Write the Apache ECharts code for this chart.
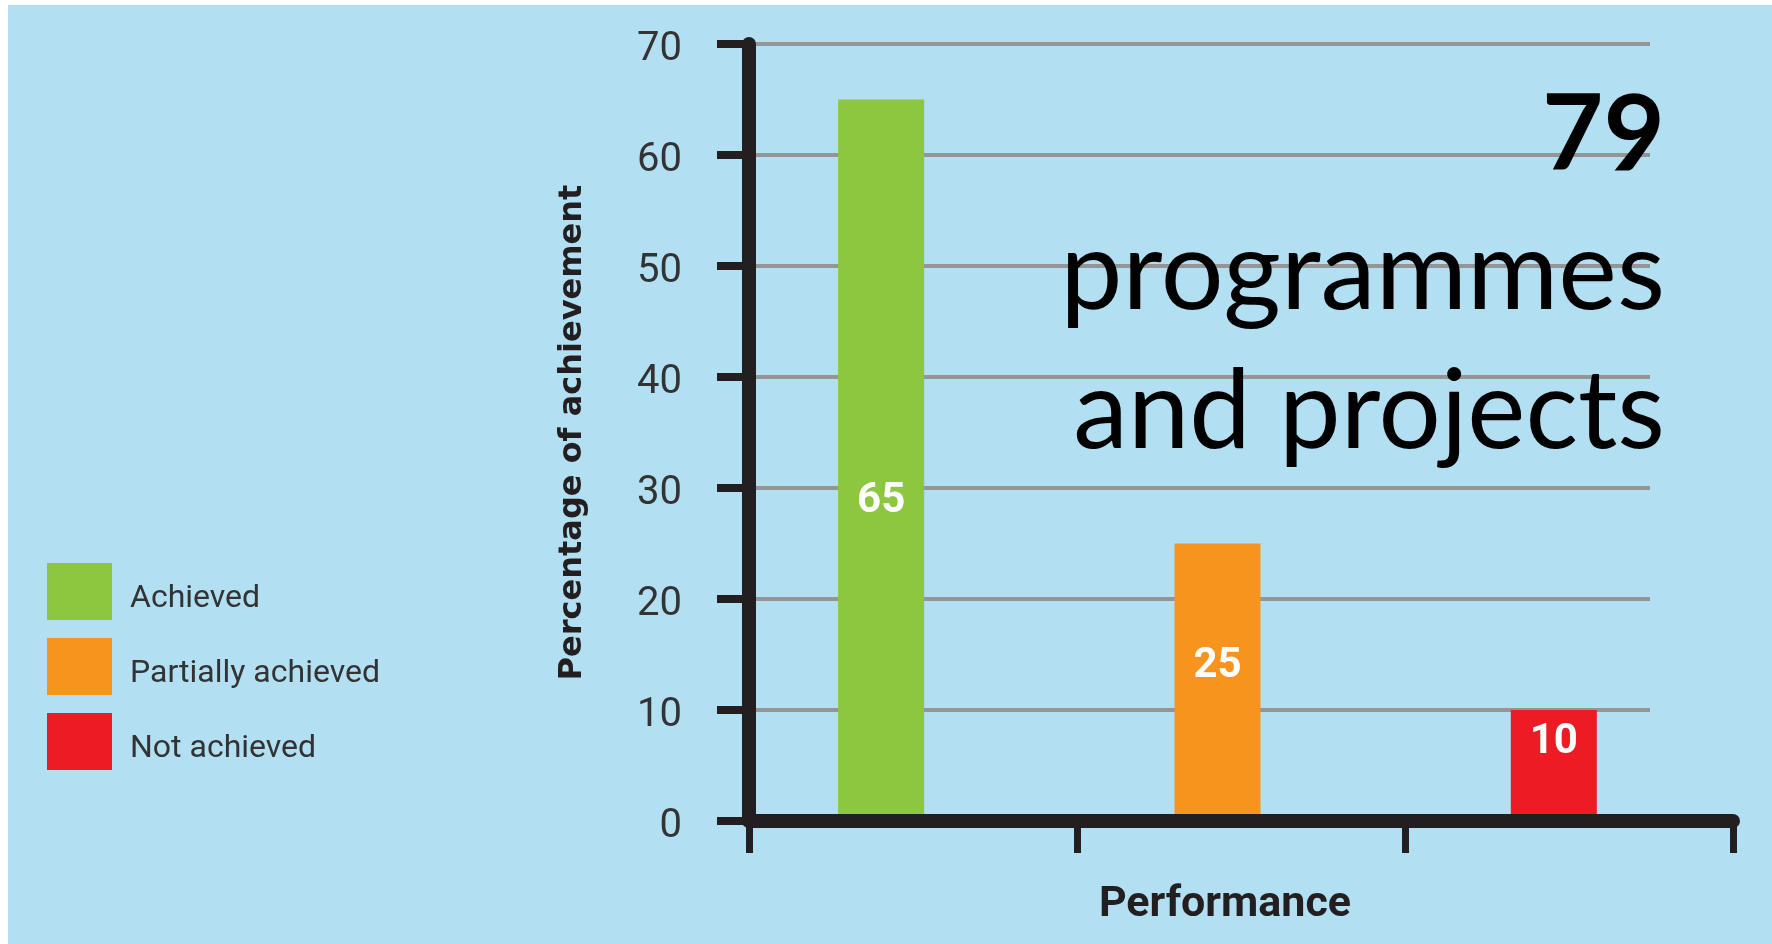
<!DOCTYPE html>
<html>
<head>
<meta charset="utf-8">
<script src="https://cdn.jsdelivr.net/npm/echarts@6/dist/echarts.min.js"></script>
<style>
  html, body { margin: 0; padding: 0; background: #ffffff; }
  #bg { position: absolute; left: 8px; top: 5px; right: 0; bottom: 0; background: #b2dff2; }
  #chart { position: absolute; left: 0; top: 0; width: 1772px; height: 944px; }
</style>
</head>
<body>
<div id="bg"></div>
<div id="chart"></div>
<script>
// ---- data ----
const categories = ['Achieved', 'Partially achieved', 'Not achieved'];
const values = [65, 25, 10];
const colors = ['#8dc63f', '#f7941d', '#ed1c24'];
const yTicks = { min: 0, max: 70, interval: 10 };
const xAxisName = 'Performance';
const yAxisName = 'Percentage of achievement';
const bigNumber = '79';
const bigLines = ['programmes', 'and projects'];
// label vertical offsets (style only)
const labelOffsets = [41, -16, -23];

const chart = echarts.init(document.getElementById('chart'), null, { renderer: 'canvas' });

const W = 1772, H = 944;
const axisLeft = 749, axisRight = 1733, gridTop = 44, axisBottom = 821;
const gridLineRight = 1650;
const barLeft = 713, barRight = 1722;
const axisColor = '#231f20';

const series = categories.map((name, i) => ({
  name: name,
  type: 'bar',
  xAxisIndex: 2,
  yAxisIndex: 2,
  stack: 'all',
  barWidth: 86,
  z: 2,
  itemStyle: { color: colors[i] },
  label: {
    show: true,
    position: 'inside',
    offset: [0, labelOffsets[i]],
    color: '#ffffff',
    fontFamily: 'Roboto',
    fontWeight: 'bold',
    fontSize: 42,
    formatter: '{c}'
  },
  data: categories.map((c, j) => (j === i ? values[i] : '-'))
}));

const option = {
  backgroundColor: 'transparent',
  animation: false,
  legend: {
    orient: 'vertical',
    left: 42,
    top: 558,
    icon: 'rect',
    itemWidth: 65,
    itemHeight: 57,
    itemGap: 18,
    data: categories,
    formatter: '{t|{name}}',
    textStyle: {
      fontFamily: 'Roboto',
      fontSize: 32,
      color: '#333333',
      padding: [0, 0, 0, 13],
      rich: {
        t: {
          fontFamily: 'Roboto',
          fontSize: 32,
          color: '#333333',
          padding: [14, 0, 0, 0]
        }
      }
    }
  },
  grid: [
    { left: axisLeft, right: W - axisRight, top: gridTop, bottom: H - axisBottom, containLabel: false },
    { left: axisLeft, right: W - gridLineRight, top: gridTop, bottom: H - axisBottom, containLabel: false },
    { left: barLeft, right: W - barRight, top: gridTop, bottom: H - axisBottom, containLabel: false }
  ],
  xAxis: [
    {
      gridIndex: 0,
      type: 'category',
      data: categories,
      boundaryGap: true,
      z: 10,
      axisLine: { show: true, lineStyle: { color: axisColor, width: 14, cap: 'round' } },
      axisTick: { show: true, length: 32, lineStyle: { color: axisColor, width: 7 } },
      axisLabel: { show: false },
      splitLine: { show: false },
      name: xAxisName,
      nameLocation: 'middle',
      nameGap: 63,
      nameTextStyle: {
        fontFamily: 'Roboto',
        fontWeight: 'bold',
        fontSize: 43,
        color: axisColor,
        padding: [0, 32, 0, 0]
      }
    },
    { gridIndex: 1, type: 'category', data: categories, show: false },
    { gridIndex: 2, type: 'category', data: categories, show: false }
  ],
  yAxis: [
    {
      gridIndex: 0,
      type: 'value',
      min: yTicks.min,
      max: yTicks.max,
      interval: yTicks.interval,
      z: 10,
      axisLine: { show: true, lineStyle: { color: axisColor, width: 14, cap: 'round' } },
      axisTick: { show: true, length: 32, lineStyle: { color: axisColor, width: 8 } },
      axisLabel: {
        show: true,
        margin: 67,
        fontFamily: 'Roboto',
        fontSize: 40,
        color: '#333333',
        verticalAlign: 'top',
        lineHeight: 12
      },
      splitLine: { show: false },
      name: yAxisName,
      nameLocation: 'middle',
      nameRotate: 90,
      nameGap: 160,
      nameTextStyle: {
        fontFamily: 'DejaVu Sans',
        fontWeight: 'bold',
        fontSize: 32,
        color: axisColor
      }
    },
    {
      gridIndex: 1,
      type: 'value',
      min: yTicks.min,
      max: yTicks.max,
      interval: yTicks.interval,
      z: 0,
      axisLine: { show: false },
      axisTick: { show: false },
      axisLabel: { show: false },
      splitLine: { show: true, lineStyle: { color: '#959595', width: 4 } }
    },
    {
      gridIndex: 2,
      type: 'value',
      min: yTicks.min,
      max: yTicks.max,
      show: false,
      splitLine: { show: false }
    }
  ],
  graphic: [
    {
      type: 'text', x: 1665, y: 136, z: 100,
      style: { text: bigNumber, fontFamily: 'Lato', fontWeight: 'bold', fontSize: 106, fill: '#000000', align: 'right', verticalAlign: 'middle' }
    },
    {
      type: 'text', x: 1665, y: 273, z: 100,
      style: { text: bigLines[0], fontFamily: 'Lato', fontSize: 111, fill: '#000000', align: 'right', verticalAlign: 'middle' }
    },
    {
      type: 'text', x: 1665, y: 413, z: 100,
      style: { text: bigLines[1], fontFamily: 'Lato', fontSize: 110, fill: '#000000', align: 'right', verticalAlign: 'middle' }
    }
  ],
  series: series
};

chart.setOption(option);
</script>
</body>
</html>
